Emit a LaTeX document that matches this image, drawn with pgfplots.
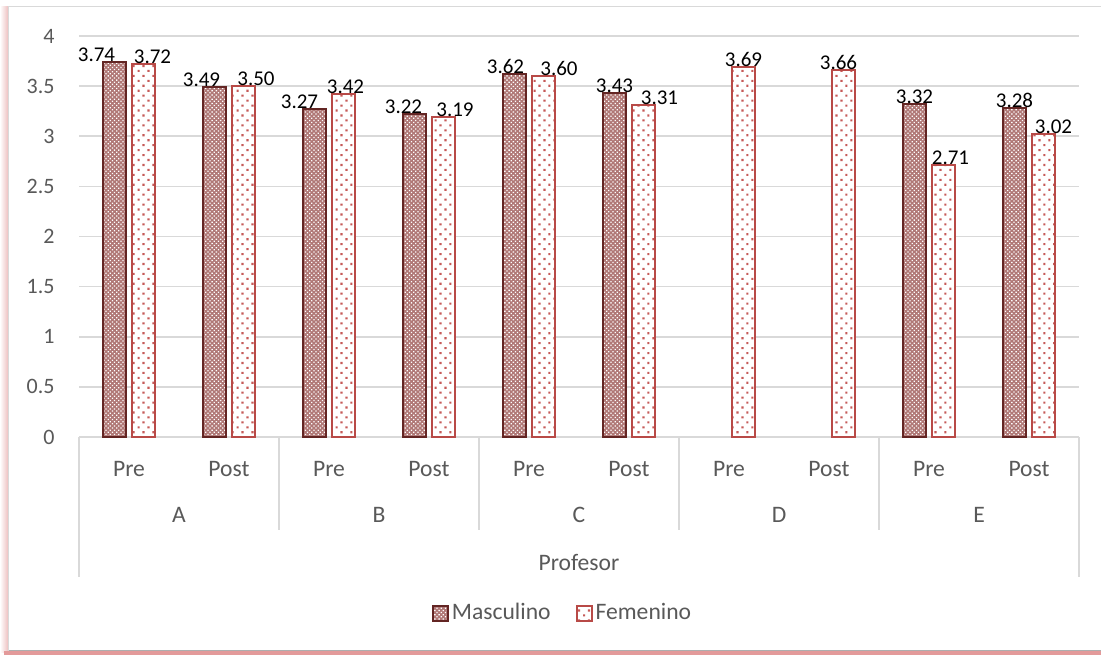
\documentclass[border=0pt]{standalone}
\usepackage{fontspec}
\setmainfont{Carlito}
\usepackage{pgfplots}
\usepackage{pgfplotstable}
\pgfplotsset{compat=1.18}
\usetikzlibrary{patterns,patterns.meta}

\definecolor{mascline}{HTML}{632523}
\definecolor{mascfill}{HTML}{B07876}
\definecolor{femline}{HTML}{B84A47}
\definecolor{femdot}{HTML}{C65A58}
\definecolor{gridgray}{HTML}{D9D9D9}
\definecolor{labelgray}{HTML}{595959}
\definecolor{framepink}{HTML}{E39A9A}

% x = category position (Pre/Post per professor), y = mean,
% lx = horizontal position of the value label
\pgfplotstableread{
x y lx
0 3.74 -0.325
1 3.49 0.725
2 3.27 1.705
3 3.22 2.745
4 3.62 3.765
5 3.43 4.855
8 3.32 7.855
9 3.28 8.855
}\masc

\pgfplotstableread{
x y lx
0 3.72 0.235
1 3.50 1.270
2 3.42 2.165
3 3.19 3.260
4 3.60 4.300
5 3.31 5.305
6 3.69 6.145
7 3.66 7.095
8 2.71 8.215
9 3.02 9.245
}\fem

\newcommand{\catfont}{\fontsize{11.8}{14}\selectfont}
\newcommand{\tickfont}{\fontsize{11}{13}\selectfont}
\newcommand{\valfont}{\fontsize{10.5}{12}\selectfont}

\pgfplotsset{
  valuelabels/.style={
    only marks, mark=none, forget plot,
    point meta=y,
    nodes near coords={\pgfmathprintnumber[fixed, fixed zerofill, precision=2]{\pgfplotspointmeta}},
    every node near coord/.append style={anchor=south, inner sep=0pt, font=\valfont, text=black},
  },
  squarelegend/.style={
    legend image code/.code={\draw[##1] (0pt,-3.75pt) rectangle (7.5pt,3.75pt);}
  },
}

\begin{document}
\begin{tikzpicture}
\useasboundingbox (0pt,0pt) rectangle (550.5pt,-327.5pt);
% chart frame with soft red shadow
\begin{scope}[x=0.5pt,y=-0.5pt]
  \shade[left color=white, right color=framepink!70] (0,6) rectangle (9,652);
  \fill[framepink] (4,651) rectangle (1101,655);
  \fill[white] (8,6) rectangle (1101,651);
  \draw[gridgray, line width=0.7pt] (8.5,650.5) -- (8.5,6.5) -- (1101,6.5);
  \draw[gridgray!80!black, line width=0.7pt] (8.5,650.5) -- (1101,650.5);
\end{scope}

\begin{axis}[
  at={(39.5pt,-218.5pt)}, anchor=south west,
  scale only axis, width=500pt, height=200.5pt,
  xmin=-0.5, xmax=9.5, ymin=0, ymax=4,
  clip=false,
  axis line style={draw=none},
  tick style={draw=none},
  ymajorgrids, grid style={gridgray, line width=0.8pt},
  ytick={0,0.5,1,1.5,2,2.5,3,3.5,4},
  /pgf/number format/assume math mode=true,
  yticklabel style={anchor=east, inner sep=0pt, xshift=-12pt, font=\tickfont, text=labelgray},
  xtick={0,1,2,3,4,5,6,7,8,9},
  xticklabels={Pre,Post,Pre,Post,Pre,Post,Pre,Post,Pre,Post},
  xticklabel style={anchor=center, inner sep=0pt, yshift=-16pt, font=\catfont, text=labelgray},
  legend style={at={(0.484,-0.439)}, anchor=center, draw=none, fill=none,
    font=\catfont, text=labelgray, legend columns=2,
    nodes={inner sep=1.5pt},
    /tikz/every even column/.append style={column sep=11pt}},
]

\addplot[ybar, bar width=0.235, bar shift=-0.145,
  draw=mascline, line width=1pt, fill=mascfill,
  postaction={pattern={Dots[distance=1.5pt, angle=45, radius=0.45pt]}, pattern color=white},
  squarelegend]
  table[x=x, y=y] {\masc};
\addlegendentry{Masculino}

\addplot[ybar, bar width=0.235, bar shift=0.145,
  draw=femline, line width=1pt, fill=white,
  postaction={pattern={Dots[distance=3.5pt, angle=45, radius=0.75pt]}, pattern color=femdot},
  squarelegend]
  table[x=x, y=y] {\fem};
\addlegendentry{Femenino}

% value labels above the bars
\addplot[valuelabels] table[x=lx, y=y] {\masc};
\addplot[valuelabels] table[x=lx, y=y] {\fem};

% multi-level category axis: separators, professor letters, title
\draw[gridgray, line width=0.8pt] (axis cs:1.5,0) -- ([yshift=-46.5pt]axis cs:1.5,0);
\draw[gridgray, line width=0.8pt] (axis cs:3.5,0) -- ([yshift=-46.5pt]axis cs:3.5,0);
\draw[gridgray, line width=0.8pt] (axis cs:5.5,0) -- ([yshift=-46.5pt]axis cs:5.5,0);
\draw[gridgray, line width=0.8pt] (axis cs:7.5,0) -- ([yshift=-46.5pt]axis cs:7.5,0);
\draw[gridgray, line width=0.8pt] (axis cs:-0.5,0) -- ([yshift=-70pt]axis cs:-0.5,0);
\draw[gridgray, line width=0.8pt] (axis cs:9.5,0) -- ([yshift=-70pt]axis cs:9.5,0);
\node[font=\catfont, text=labelgray, yshift=-39pt] at (axis cs:0.5,0) {A};
\node[font=\catfont, text=labelgray, yshift=-39pt] at (axis cs:2.5,0) {B};
\node[font=\catfont, text=labelgray, yshift=-39pt] at (axis cs:4.5,0) {C};
\node[font=\catfont, text=labelgray, yshift=-39pt] at (axis cs:6.5,0) {D};
\node[font=\catfont, text=labelgray, yshift=-39pt] at (axis cs:8.5,0) {E};
\node[font=\catfont, text=labelgray, yshift=-62.5pt] at (axis cs:4.5,0) {Profesor};
\end{axis}
\end{tikzpicture}
\end{document}
